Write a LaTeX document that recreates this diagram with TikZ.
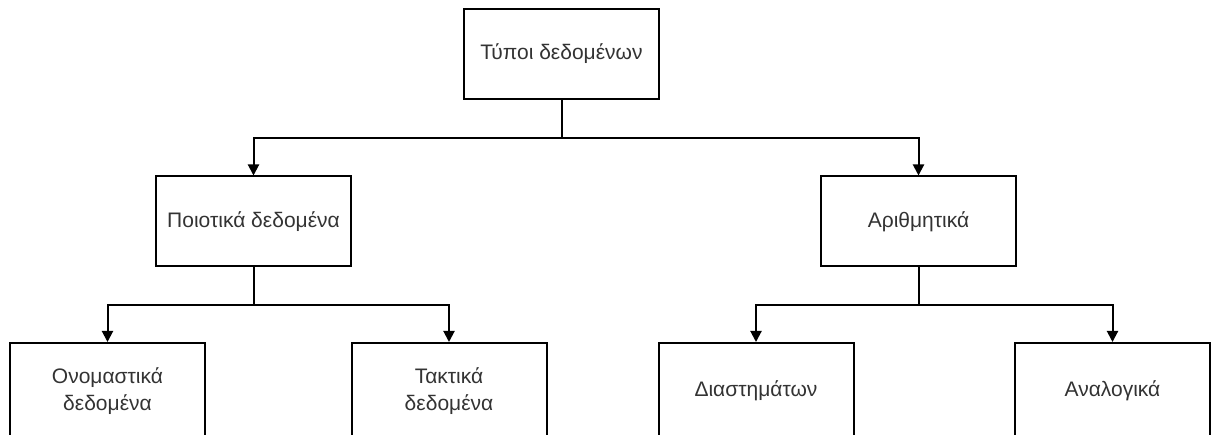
\documentclass[tikz,border=0pt]{standalone}
\usepackage{ fontspec }
\usepackage{ tikz }
\usetikzlibrary{ arrows.meta }
\setmainfont{Liberation Sans}

\begin{document}
\begin{tikzpicture}[x=1pt, y=-1pt,
    box/.style={draw, line width=2pt, minimum width=195pt, minimum height=90pt,
      align=center, inner sep=0pt, text=black!80, font=\fontsize{21}{27}\selectfont},
    link/.style={line width=2pt, -{Triangle[length=11pt, width=11pt]}}]
  % Frame
  \useasboundingbox (0,0) rectangle (1212,435);

  % Boxes
  \node[box] (types) at (561.5, 54) {Τύποι δεδομένων};
  \node[box] (qual) at (253.5, 221.5) {Ποιοτικά δεδομένα};
  \node[box] (num) at (918.5, 221.5) {Αριθμητικά};
  \node[box, minimum height=96pt] (nom) at (107.5, 391) {Ονομαστικά\\δεδομένα};
  \node[box, minimum height=96pt] (ord) at (449, 391) {Τακτικά\\δεδομένα};
  \node[box, minimum height=96pt] (intv) at (756, 391) {Διαστημάτων};
  \node[box, minimum height=96pt] (ratio) at (1112.5, 391) {Αναλογικά};

  % Branches
  \draw[link] (types.south) -- ++(0,38) -| (qual.north);
  \draw[link] (types.south) -- ++(0,38) -| (num.north);
  \draw[link] (qual.south) -- ++(0,38) -| (nom.north);
  \draw[link] (qual.south) -- ++(0,38) -| (ord.north);
  \draw[link] (num.south) -- ++(0,38) -| (intv.north);
  \draw[link] (num.south) -- ++(0,38) -| (ratio.north);
\end{tikzpicture}
\end{document}
